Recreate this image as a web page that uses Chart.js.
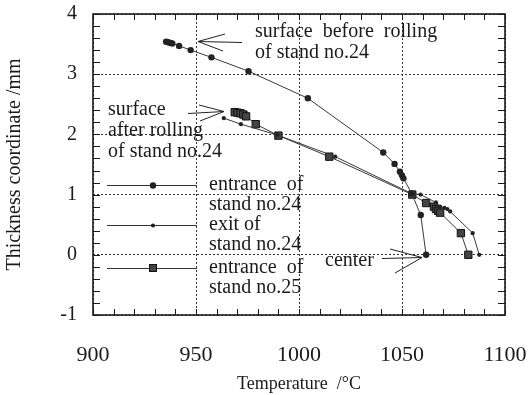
<!DOCTYPE html>
<html>
<head>
<meta charset="utf-8">
<script src="https://cdn.jsdelivr.net/npm/chart.js@4.4.1/dist/chart.umd.min.js"></script>
<style>
    html, body { margin: 0; padding: 0; background: #fff; }
    canvas { display: block; }
</style>
</head>
<body>
<canvas id="chart" width="531" height="395"></canvas>
<script>
// entrance of stand no.24 (large dots)
const entrance24Temp = [935.5, 936.5, 937.5, 938.5, 941.8, 947.4, 957.5, 975.5, 1004.3, 1040.9, 1046.4, 1049.0, 1050.0, 1050.7, 1054.7, 1059.1, 1061.7];
const entrance24Thick = [3.54, 3.53, 3.52, 3.51, 3.47, 3.40, 3.28, 3.05, 2.60, 1.70, 1.51, 1.38, 1.32, 1.27, 1.02, 0.66, 0.00];

// exit of stand no.24 (small dots)
const exit24Temp = [963.5, 971.8, 989.5, 1017.6, 1054.5, 1059.0, 1066.5, 1068.5, 1070.6, 1072.0, 1073.4, 1084.3, 1087.5];
const exit24Thick = [2.27, 2.17, 1.99, 1.63, 1.02, 1.00, 0.87, 0.80, 0.78, 0.76, 0.72, 0.36, 0.00];

// entrance of stand no.25 (squares)
const entrance25Temp = [968.8, 970.2, 971.6, 973.0, 974.3, 979.0, 990.0, 1014.7, 1055.0, 1061.7, 1065.5, 1066.5, 1067.5, 1068.5, 1078.6, 1082.2];
const entrance25Thick = [2.37, 2.36, 2.35, 2.33, 2.30, 2.17, 1.98, 1.63, 1.00, 0.86, 0.80, 0.76, 0.73, 0.70, 0.36, 0.00];

const xTicks = [900, 950, 1000, 1050, 1100];
const yTicks = [-1, 0, 1, 2, 3, 4];

const toPoints = (xs, ys) => xs.map((x, i) => ({ x: x, y: ys[i] }));
const serif = "'Liberation Serif', 'DejaVu Serif', serif";
const ink = '#1a1a1a';

// frame, inward ticks, legend and annotations
const framePlugin = {
    id: 'frame',
    beforeDraw(chart) {
        const ctx = chart.ctx;
        ctx.save();
        ctx.fillStyle = '#fff';
        ctx.fillRect(0, 0, chart.width, chart.height);
        ctx.restore();
    },
    afterDraw(chart) {
        const ctx = chart.ctx;
        const a = chart.chartArea;
        const xs = chart.scales.x;
        const ys = chart.scales.y;
        ctx.save();
        ctx.strokeStyle = ink;
        ctx.lineWidth = 1;
        ctx.setLineDash([]);

        // minor/major ticks pointing inward
        ctx.beginPath();
        for (let v = 900; v <= 1100; v += 10) {
            const px = Math.round(xs.getPixelForValue(v)) + 0.5;
            ctx.moveTo(px, a.bottom); ctx.lineTo(px, a.bottom - 6);
            ctx.moveTo(px, a.top); ctx.lineTo(px, a.top + 6);
        }
        for (let k = -5; k <= 20; k++) {
            const py = Math.round(ys.getPixelForValue(k * 0.2)) + 0.5;
            ctx.moveTo(a.left, py); ctx.lineTo(a.left + 7, py);
            ctx.moveTo(a.right, py); ctx.lineTo(a.right - 7, py);
        }
        ctx.stroke();

        // frame
        ctx.lineWidth = 1.6;
        ctx.strokeRect(a.left, a.top, a.right - a.left, a.bottom - a.top);

        // legend
        ctx.lineWidth = 1;
        const legendRows = [
            { y: 185, ds: 0, text: ['entrance  of', 'stand no.24'] },
            { y: 225, ds: 1, text: ['exit of', 'stand no.24'] },
            { y: 268, ds: 2, text: ['entrance  of', 'stand no.25'] }
        ];
        ctx.font = '20px ' + serif;
        ctx.textBaseline = 'middle';
        ctx.textAlign = 'left';
        ctx.fillStyle = ink;
        legendRows.forEach(row => {
            const ds = chart.data.datasets[row.ds];
            ctx.strokeStyle = '#333';
            ctx.beginPath();
            ctx.moveTo(107, row.y + 0.5);
            ctx.lineTo(197, row.y + 0.5);
            ctx.stroke();
            ctx.fillStyle = ds.pointBackgroundColor;
            if (ds.pointStyle === 'rect') {
                ctx.fillRect(149.5, row.y - 3.5, 7, 7);
                ctx.strokeStyle = '#111';
                ctx.strokeRect(149.5, row.y - 3.5, 7, 7);
            } else {
                ctx.beginPath();
                ctx.arc(153, row.y + 0.5, ds.pointRadius, 0, Math.PI * 2);
                ctx.fill();
            }
            ctx.fillStyle = ink;
            ctx.fillText(row.text[0], 209, row.y);
            ctx.fillText(row.text[1], 209, row.y + 20);
        });

        // annotations
        if ('wordSpacing' in ctx) ctx.wordSpacing = '5px';
        ctx.fillText('surface before rolling', 255, 32);
        if ('wordSpacing' in ctx) ctx.wordSpacing = '0px';
        ctx.fillText('of stand no.24', 255, 53);
        ctx.fillText('surface', 108, 110);
        ctx.fillText('after rolling', 108, 131);
        ctx.fillText('of stand no.24', 108, 152);
        ctx.fillText('center', 325, 261);

        ctx.strokeStyle = '#222';
        const arrow = (x0, y0, tx, ty, h1, h2) => {
            ctx.beginPath();
            ctx.moveTo(x0, y0); ctx.lineTo(tx, ty);
            ctx.moveTo(h1[0], h1[1]); ctx.lineTo(tx, ty); ctx.lineTo(h2[0], h2[1]);
            ctx.stroke();
        };
        arrow(242, 42.5, 198, 41.5, [225, 34], [223, 51]);
        arrow(188, 113.5, 224, 111.5, [199, 105], [200, 121]);
        arrow(382, 258.5, 422, 257.5, [390, 249], [395, 273]);

        ctx.restore();
    }
};

new Chart(document.getElementById('chart').getContext('2d'), {
    type: 'scatter',
    data: {
        datasets: [{
            label: 'entrance of stand no.24',
            data: toPoints(entrance24Temp, entrance24Thick),
            showLine: true,
            borderColor: '#3a3a3a',
            borderWidth: 1,
            pointStyle: 'circle',
            pointRadius: 3.2,
            pointBackgroundColor: '#222',
            pointBorderWidth: 0
        }, {
            label: 'exit of stand no.24',
            data: toPoints(exit24Temp, exit24Thick),
            showLine: true,
            borderColor: '#3a3a3a',
            borderWidth: 1,
            pointStyle: 'circle',
            pointRadius: 2.1,
            pointBackgroundColor: '#222',
            pointBorderWidth: 0
        }, {
            label: 'entrance of stand no.25',
            data: toPoints(entrance25Temp, entrance25Thick),
            showLine: true,
            borderColor: '#3a3a3a',
            borderWidth: 1,
            pointStyle: 'rect',
            pointRadius: 5.2,
            pointBackgroundColor: '#444',
            pointBorderColor: '#111',
            pointBorderWidth: 1
        }]
    },
    options: {
        responsive: false,
        animation: false,
        layout: { padding: { left: 0, right: 26, top: 14, bottom: 0 } },
        plugins: {
            legend: { display: false },
            tooltip: { enabled: false }
        },
        scales: {
            x: {
                type: 'linear',
                min: 900,
                max: 1100,
                afterBuildTicks: s => { s.ticks = xTicks.map(v => ({ value: v })); },
                afterFit: s => { s.height = 80; },
                ticks: {
                    padding: 0,
                    color: ink,
                    font: { family: serif, size: 22 },
                    callback: v => String(v)
                },
                // invisible outer tick marks only set the label gap
                grid: { color: '#333', lineWidth: 1, drawTicks: true, tickLength: 27, tickColor: 'rgba(0,0,0,0)' },
                border: { display: false, dash: [2, 2] },
                title: {
                    display: true,
                    text: 'Temperature  /°C',
                    color: ink,
                    font: { family: serif, size: 18 },
                    padding: { top: 0, bottom: 0 }
                }
            },
            y: {
                type: 'linear',
                min: -1,
                max: 4,
                afterBuildTicks: s => { s.ticks = yTicks.map(v => ({ value: v })); },
                afterFit: s => { s.width = 93; },
                ticks: {
                    padding: 0,
                    color: ink,
                    font: { family: serif, size: 20 },
                    callback: v => String(v)
                },
                grid: { color: '#333', lineWidth: 1, drawTicks: true, tickLength: 16, tickColor: 'rgba(0,0,0,0)' },
                border: { display: false, dash: [2, 2] },
                title: {
                    display: true,
                    text: 'Thickness coordinate /mm',
                    color: ink,
                    font: { family: serif, size: 20 },
                    padding: { top: 3, bottom: 0 }
                }
            }
        }
    },
    plugins: [framePlugin]
});
</script>
</body>
</html>
